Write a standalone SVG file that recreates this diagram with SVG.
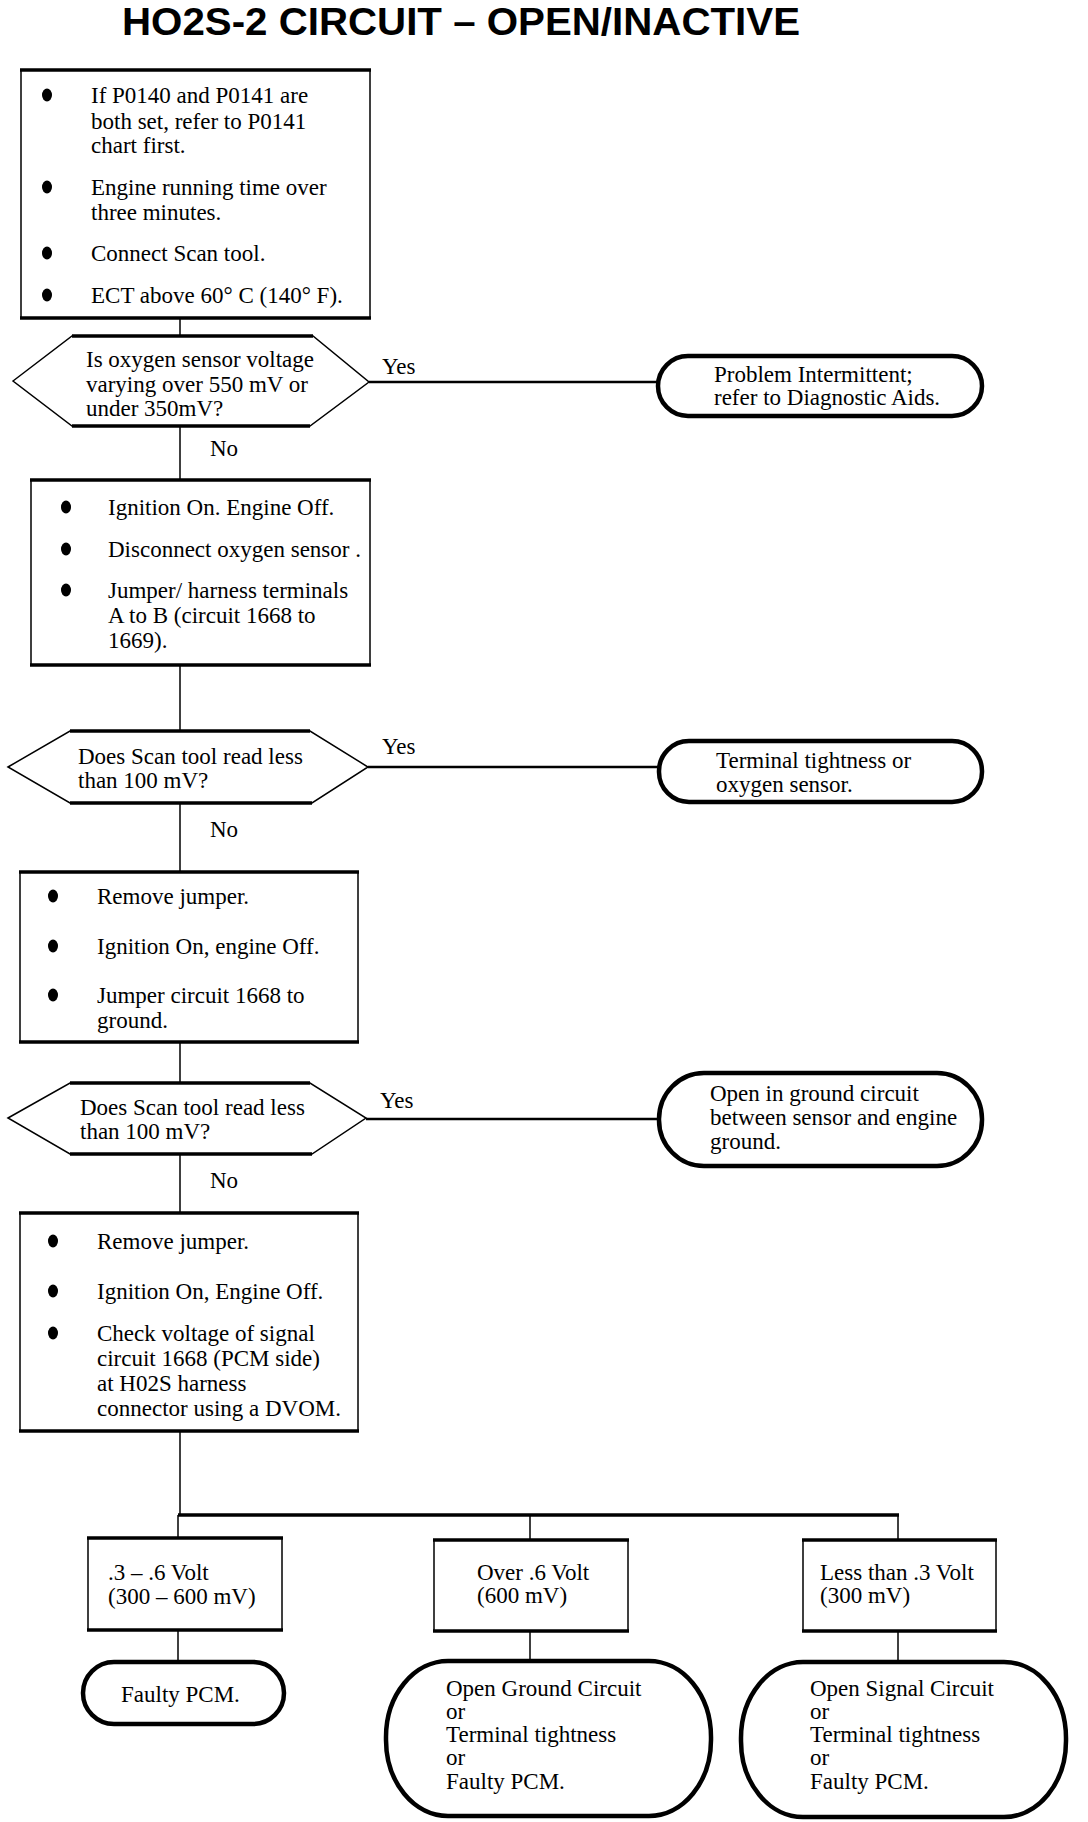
<svg xmlns="http://www.w3.org/2000/svg" width="1088" height="1822" viewBox="0 0 1088 1822">
<style>
.t{font-family:"Liberation Serif","Times New Roman",serif;font-size:23px;fill:#000}
.title{font-family:"Liberation Sans",Arial,sans-serif;font-weight:bold;font-size:39px;fill:#000}
.box{fill:#fff;stroke:#000;stroke-width:1.5}
.edge{stroke:#000;stroke-width:3.5;fill:none}
.term{fill:#fff;stroke:#000;stroke-width:4.5}
.conn{stroke:#000;stroke-width:1.5;fill:none}
.yes{stroke:#000;stroke-width:2.5;fill:none}
.bus{stroke:#000;stroke-width:3.5;fill:none}
.b{fill:#000}
</style>
<rect width="1088" height="1822" fill="#fff"/>
<text class="title" x="122" y="35" textLength="678" lengthAdjust="spacingAndGlyphs">HO2S-2 CIRCUIT – OPEN/INACTIVE</text>

<g id="connectors">
<line class="conn" x1="180" y1="318" x2="180" y2="336"/>
<line class="conn" x1="180" y1="426" x2="180" y2="480"/>
<line class="conn" x1="180" y1="665" x2="180" y2="731"/>
<line class="conn" x1="180" y1="803" x2="180" y2="872"/>
<line class="conn" x1="180" y1="1042" x2="180" y2="1083"/>
<line class="conn" x1="180" y1="1154" x2="180" y2="1213"/>
<line class="conn" x1="180" y1="1431" x2="180" y2="1515"/>
<line class="bus" x1="178" y1="1515" x2="899" y2="1515"/>
<line class="conn" x1="178" y1="1515" x2="178" y2="1538"/>
<line class="conn" x1="530" y1="1515" x2="530" y2="1540"/>
<line class="conn" x1="898" y1="1515" x2="898" y2="1540"/>
<line class="conn" x1="178" y1="1630" x2="178" y2="1662"/>
<line class="conn" x1="530" y1="1631" x2="530" y2="1661"/>
<line class="conn" x1="898" y1="1631" x2="898" y2="1662"/>
<line class="yes" x1="369" y1="382" x2="658" y2="382"/>
<line class="yes" x1="368" y1="767" x2="659" y2="767"/>
<line class="yes" x1="366" y1="1119" x2="659" y2="1119"/>
<text class="t" x="382" y="374">Yes</text>
<text class="t" x="210" y="456">No</text>
<text class="t" x="382" y="754">Yes</text>
<text class="t" x="210" y="837">No</text>
<text class="t" x="380" y="1108">Yes</text>
<text class="t" x="210" y="1188">No</text>
</g>

<g id="box1">
<rect class="box" x="21" y="70" width="349" height="248"/>
<line class="edge" x1="20" y1="70" x2="371" y2="70"/>
<line class="edge" x1="20" y1="318" x2="371" y2="318"/>
<ellipse class="b" cx="47" cy="95" rx="5" ry="6.5"/>
<ellipse class="b" cx="47" cy="187" rx="5" ry="6.5"/>
<ellipse class="b" cx="47" cy="253" rx="5" ry="6.5"/>
<ellipse class="b" cx="47" cy="295" rx="5" ry="6.5"/>
<text class="t" x="91" y="103">If P0140 and P0141 are</text>
<text class="t" x="91" y="129">both set, refer to P0141</text>
<text class="t" x="91" y="153">chart first.</text>
<text class="t" x="91" y="195">Engine running time over</text>
<text class="t" x="91" y="220">three minutes.</text>
<text class="t" x="91" y="261">Connect Scan tool.</text>
<text class="t" x="91" y="303">ECT above 60° C (140° F).</text>
</g>

<g id="decision1">
<polygon class="box" points="13,381 72,336 313,336 369,382 310,426 72,426"/>
<line class="edge" x1="72" y1="336" x2="313" y2="336"/>
<line class="edge" x1="72" y1="426" x2="310" y2="426"/>
<text class="t" x="86" y="367">Is oxygen sensor voltage</text>
<text class="t" x="86" y="392">varying over 550 mV or</text>
<text class="t" x="86" y="416">under 350mV?</text>
</g>

<g id="result1">
<rect class="term" x="658" y="356" width="324" height="60" rx="30" ry="30"/>
<text class="t" x="714" y="382">Problem Intermittent;</text>
<text class="t" x="714" y="405">refer to Diagnostic Aids.</text>
</g>

<g id="box2">
<rect class="box" x="31" y="480" width="339" height="185"/>
<line class="edge" x1="30" y1="480" x2="371" y2="480"/>
<line class="edge" x1="30" y1="665" x2="371" y2="665"/>
<ellipse class="b" cx="66" cy="507" rx="5" ry="6.5"/>
<ellipse class="b" cx="66" cy="549" rx="5" ry="6.5"/>
<ellipse class="b" cx="66" cy="590" rx="5" ry="6.5"/>
<text class="t" x="108" y="515">Ignition On. Engine Off.</text>
<text class="t" x="108" y="557">Disconnect oxygen sensor .</text>
<text class="t" x="108" y="598">Jumper/ harness terminals</text>
<text class="t" x="108" y="623">A to B (circuit 1668 to</text>
<text class="t" x="108" y="648">1669).</text>
</g>

<g id="decision2">
<polygon class="box" points="8,767 70,731 310,731 368,767 312,803 70,803"/>
<line class="edge" x1="70" y1="731" x2="310" y2="731"/>
<line class="edge" x1="70" y1="803" x2="312" y2="803"/>
<text class="t" x="78" y="764">Does Scan tool read less</text>
<text class="t" x="78" y="788">than 100 mV?</text>
</g>

<g id="result2">
<rect class="term" x="659" y="741" width="323" height="61" rx="30" ry="30"/>
<text class="t" x="716" y="768">Terminal tightness or</text>
<text class="t" x="716" y="792">oxygen sensor.</text>
</g>

<g id="box3">
<rect class="box" x="20" y="872" width="338" height="170"/>
<line class="edge" x1="19" y1="872" x2="359" y2="872"/>
<line class="edge" x1="19" y1="1042" x2="359" y2="1042"/>
<ellipse class="b" cx="53" cy="896" rx="5" ry="6.5"/>
<ellipse class="b" cx="53" cy="946" rx="5" ry="6.5"/>
<ellipse class="b" cx="53" cy="995" rx="5" ry="6.5"/>
<text class="t" x="97" y="904">Remove jumper.</text>
<text class="t" x="97" y="954">Ignition On, engine Off.</text>
<text class="t" x="97" y="1003">Jumper circuit 1668 to</text>
<text class="t" x="97" y="1028">ground.</text>
</g>

<g id="decision3">
<polygon class="box" points="8,1118 70,1083 310,1083 366,1118 312,1154 70,1154"/>
<line class="edge" x1="70" y1="1083" x2="310" y2="1083"/>
<line class="edge" x1="70" y1="1154" x2="312" y2="1154"/>
<text class="t" x="80" y="1115">Does Scan tool read less</text>
<text class="t" x="80" y="1139">than 100 mV?</text>
</g>

<g id="result3">
<rect class="term" x="659" y="1073" width="323" height="93" rx="45" ry="46"/>
<text class="t" x="710" y="1101">Open in ground circuit</text>
<text class="t" x="710" y="1125">between sensor and engine</text>
<text class="t" x="710" y="1149">ground.</text>
</g>

<g id="box4">
<rect class="box" x="20" y="1213" width="338" height="218"/>
<line class="edge" x1="19" y1="1213" x2="359" y2="1213"/>
<line class="edge" x1="19" y1="1431" x2="359" y2="1431"/>
<ellipse class="b" cx="53" cy="1241" rx="5" ry="6.5"/>
<ellipse class="b" cx="53" cy="1291" rx="5" ry="6.5"/>
<ellipse class="b" cx="53" cy="1333" rx="5" ry="6.5"/>
<text class="t" x="97" y="1249">Remove jumper.</text>
<text class="t" x="97" y="1299">Ignition On, Engine Off.</text>
<text class="t" x="97" y="1341">Check voltage of signal</text>
<text class="t" x="97" y="1366">circuit 1668 (PCM side)</text>
<text class="t" x="97" y="1391">at H02S harness</text>
<text class="t" x="97" y="1416">connector using a DVOM.</text>
</g>

<g id="rangeA">
<rect class="box" x="88" y="1538" width="194" height="92"/>
<line class="edge" x1="87" y1="1538" x2="283" y2="1538"/>
<line class="edge" x1="87" y1="1630" x2="283" y2="1630"/>
<text class="t" x="108" y="1580">.3 – .6 Volt</text>
<text class="t" x="108" y="1604">(300 – 600 mV)</text>
</g>

<g id="rangeB">
<rect class="box" x="434" y="1540" width="194" height="91"/>
<line class="edge" x1="433" y1="1540" x2="629" y2="1540"/>
<line class="edge" x1="433" y1="1631" x2="629" y2="1631"/>
<text class="t" x="477" y="1580">Over .6 Volt</text>
<text class="t" x="477" y="1603">(600 mV)</text>
</g>

<g id="rangeC">
<rect class="box" x="803" y="1540" width="193" height="91"/>
<line class="edge" x1="802" y1="1540" x2="997" y2="1540"/>
<line class="edge" x1="802" y1="1631" x2="997" y2="1631"/>
<text class="t" x="820" y="1580">Less than .3 Volt</text>
<text class="t" x="820" y="1603">(300 mV)</text>
</g>

<g id="resultA">
<rect class="term" x="83" y="1662" width="201" height="62" rx="31" ry="31"/>
<text class="t" x="121" y="1702">Faulty PCM.</text>
</g>

<g id="resultB">
<rect class="term" x="386" y="1661" width="325" height="155" rx="62" ry="76"/>
<text class="t" x="446" y="1696">Open Ground Circuit</text>
<text class="t" x="446" y="1719">or</text>
<text class="t" x="446" y="1742">Terminal tightness</text>
<text class="t" x="446" y="1765">or</text>
<text class="t" x="446" y="1789">Faulty PCM.</text>
</g>

<g id="resultC">
<rect class="term" x="741" y="1662" width="325" height="155" rx="62" ry="76"/>
<text class="t" x="810" y="1696">Open Signal Circuit</text>
<text class="t" x="810" y="1719">or</text>
<text class="t" x="810" y="1742">Terminal tightness</text>
<text class="t" x="810" y="1765">or</text>
<text class="t" x="810" y="1789">Faulty PCM.</text>
</g>
</svg>
